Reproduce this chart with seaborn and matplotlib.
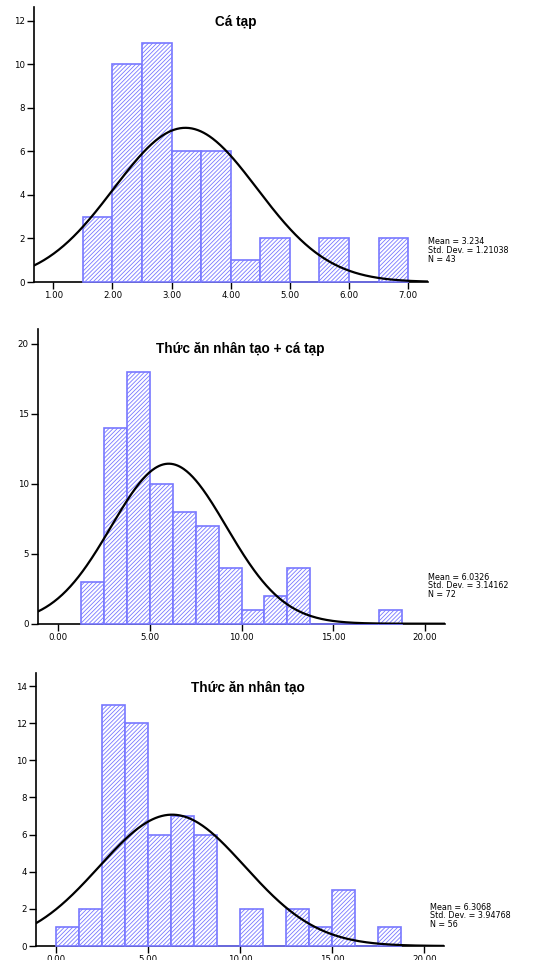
import numpy as np
import pandas as pd
import matplotlib
matplotlib.use("Agg")
import matplotlib.pyplot as plt
import seaborn as sns

sns.set_theme(style="ticks")
plt.rcParams['font.family'] = ['DejaVu Sans']
plt.rcParams['hatch.linewidth'] = 0.6
plt.rcParams['text.color'] = 'black'

# ---- data ----
titles = ["Cá tạp", "Thức ăn nhân tạo + cá tạp", "Thức ăn nhân tạo"]

edges1 = [1.5, 2.0, 2.5, 3.0, 3.5, 4.0, 4.5, 5.0, 5.5, 6.0, 6.5, 7.0]
counts1 = [3, 10, 11, 6, 6, 1, 2, 0, 2, 0, 2]
mean1, sd1, n1 = 3.234, 1.21038, 43

edges2 = [1.25, 2.5, 3.75, 5.0, 6.25, 7.5, 8.75, 10.0, 11.25, 12.5, 13.75, 15.0, 16.25, 17.5, 18.75]
counts2 = [3, 14, 18, 10, 8, 7, 4, 1, 2, 4, 0, 0, 0, 1]
mean2, sd2, n2 = 6.0326, 3.14162, 72

edges3 = [0.0, 1.25, 2.5, 3.75, 5.0, 6.25, 7.5, 8.75, 10.0, 11.25, 12.5, 13.75, 15.0, 16.25, 17.5, 18.75]
counts3 = [1, 2, 13, 12, 6, 7, 6, 0, 2, 0, 2, 1, 3, 0, 1]
mean3, sd3, n3 = 6.3068, 3.94768, 56

xticks1 = [1, 2, 3, 4, 5, 6, 7]
yticks1 = [0, 2, 4, 6, 8, 10, 12]
xticks2 = [0, 5, 10, 15, 20]
yticks2 = [0, 5, 10, 15, 20]
xticks3 = [0, 5, 10, 15, 20]
yticks3 = [0, 2, 4, 6, 8, 10, 12, 14]

stats = [("3.234", "1.21038", n1),
         ("6.0326", "3.14162", n2),
         ("6.3068", "3.94768", n3)]

W, H = 551, 960
fig = plt.figure(figsize=(W / 100, H / 100), dpi=100)

# layout (pixels): left, right, bottom, top
boxes = [(34, 427.7, 282, 7), (37.7, 445, 623.7, 329), (35.7, 444.3, 946, 672.7)]
xlims = [(0.674, 7.33), (-1.11, 21.09), (-1.10, 21.09)]
ylims = [(0, 12.64), (0, 21.05), (0, 14.72)]
title_pos = [(236, 22), (240, 349), (248, 688)]
stat_base = [(428, 244.3), (428, 579.5), (430, 909.5)]

all_edges = [edges1, edges2, edges3]
all_counts = [counts1, counts2, counts3]
all_xt = [xticks1, xticks2, xticks3]
all_yt = [yticks1, yticks2, yticks3]
means = [mean1, mean2, mean3]
sds = [sd1, sd2, sd3]
ns = [n1, n2, n3]

blue = (0.47, 0.47, 1.0)

for i in range(3):
    l, r, b, t = boxes[i]
    ax = fig.add_axes([l / W, 1 - b / H, (r - l) / W, (b - t) / H])
    e = np.array(all_edges[i], dtype=float)
    c = np.array(all_counts[i], dtype=float)
    centers = (e[:-1] + e[1:]) / 2
    df = pd.DataFrame({"x": centers, "w": c})
    sns.histplot(data=df, x="x", weights="w", bins=list(all_edges[i]), ax=ax,
                 color="white", edgecolor=blue, linewidth=1.2, alpha=1.0)
    for p in ax.patches:
        p.set_hatch("////////")
        p.set_edgecolor(blue)
        p.set_facecolor("white")
        p.set_zorder(3)
        p.set_clip_on(False)
    bw = e[1] - e[0]
    xs = np.linspace(xlims[i][0], xlims[i][1], 400)
    ys = ns[i] * bw / (sds[i] * np.sqrt(2 * np.pi)) * np.exp(-0.5 * ((xs - means[i]) / sds[i]) ** 2)
    sns.lineplot(x=xs, y=ys, ax=ax, color="black", linewidth=1.6, zorder=4)
    ax.set_xlim(*xlims[i])
    ax.set_ylim(*ylims[i])
    ax.set_xticks(all_xt[i])
    ax.set_xticklabels([f"{v:.2f}" for v in all_xt[i]])
    ax.set_yticks(all_yt[i])
    ax.set_yticklabels([str(v) for v in all_yt[i]])
    ax.tick_params(axis="both", labelsize=6.2, length=5, width=1, pad=1.5,
                   colors="black", labelcolor="black")
    ax.set_xlabel("")
    ax.set_ylabel("")
    for s in ["top", "right"]:
        ax.spines[s].set_visible(False)
    for s in ["left", "bottom"]:
        ax.spines[s].set_linewidth(1.2)
        ax.spines[s].set_color("black")
    tx, ty = title_pos[i]
    fig.text(tx / W, 1 - ty / H, titles[i], ha="center", va="center", color="black",
             fontsize=9.8, fontweight="bold", family=["Liberation Sans", "DejaVu Sans"])
    sx, sy = stat_base[i]
    mtxt, stxt, nn = stats[i]
    for k, line in enumerate([f"Mean = {mtxt}", f"Std. Dev. = {stxt}", f"N = {nn}"]):
        fig.text(sx / W, 1 - (sy + 8.7 * k) / H, line, ha="left", va="baseline",
                 fontsize=5.8, color="black")

fig.savefig("out.png", dpi=100)
